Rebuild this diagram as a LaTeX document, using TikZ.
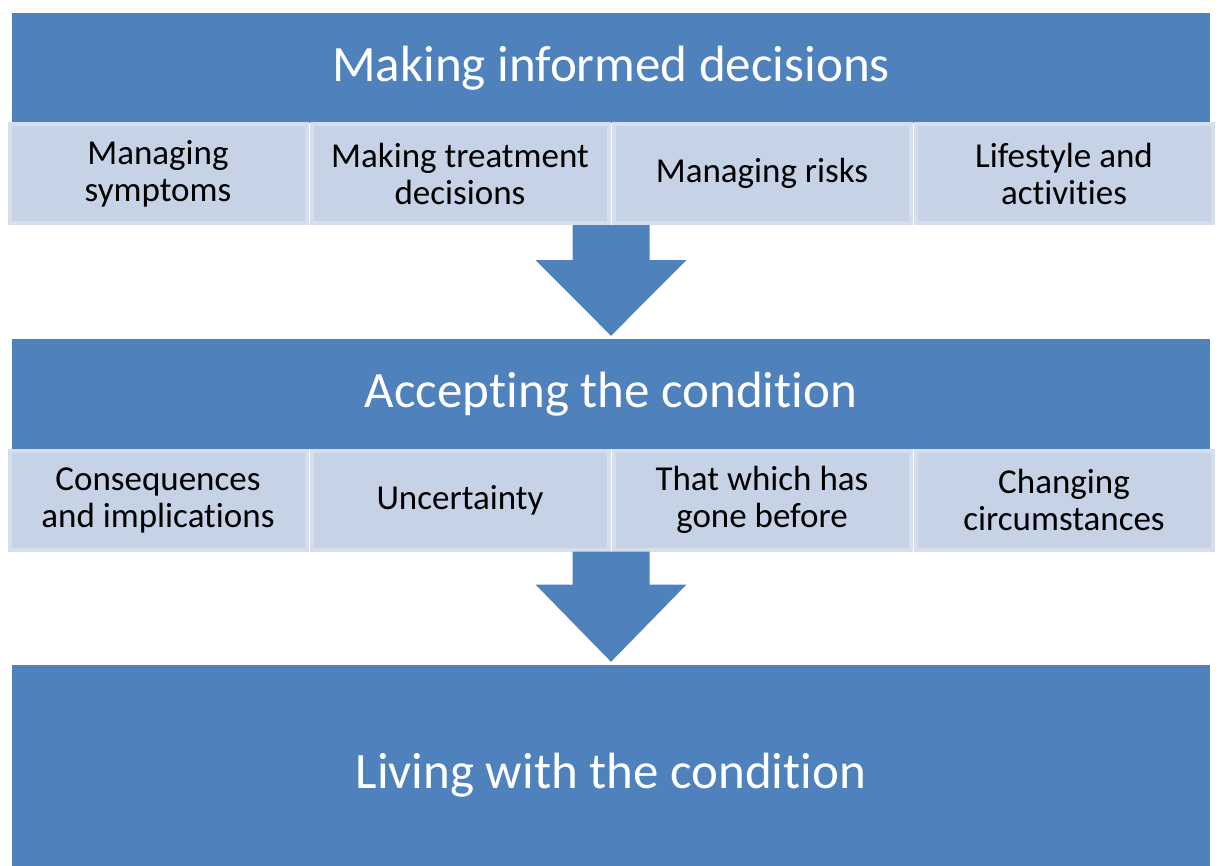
\documentclass[tikz,border=0pt]{standalone}
\usepackage{fontspec}
\setmainfont{Carlito}[Ligatures=NoCommon]
\usetikzlibrary{calc}
\definecolor{bannerblue}{RGB}{79,129,189}
\definecolor{topicfill}{RGB}{198,210,229}
\definecolor{topicedge}{RGB}{214,221,235}

\begin{document}
\begin{tikzpicture}[x=1pt,y=-1pt]
\tikzstyle{every node}+=[inner sep=0pt]
\tikzstyle{banner}=[fill=bannerblue, text=white, minimum width=1198pt, font=\fontsize{51}{54}\selectfont]
\tikzstyle{topic}=[fill=topicfill, draw=topicedge, line width=4pt, minimum width=297pt, minimum height=99pt, align=center, font=\fontsize{35}{37}\selectfont]
\tikzstyle{flow}=[fill=bannerblue]
\useasboundingbox (0,0) rectangle (1221,865);
% stage 1
\node[banner, minimum height=110pt] (decide) at (611,68) {Making informed decisions};
\node[topic] (symptoms) at (158,173.5) {Managing\\symptoms};
\node[topic] (treatment) at (460,173.5) {Making treatment\\decisions};
\node[topic] (risks) at (762,173.5) {Managing risks};
\node[topic] (lifestyle) at (1064,173.5) {Lifestyle and\\activities};
% stage 2
\node[banner, minimum height=110pt] (accept) at (611,394) {Accepting the condition};
\node[topic] (consequences) at (158,500) {Consequences\\and implications};
\node[topic] (uncertainty) at (460,500) {Uncertainty};
\node[topic] (before) at (762,500) {That which has\\gone before};
\node[topic] (circumstances) at (1064,500) {Changing\\circumstances};
% stage 3 (runs off the bottom edge)
\node[banner, minimum height=220pt] (living) at (611,775) {Living with the condition};
% block arrows
\coordinate (a1) at (treatment.south -| accept.north);
\fill[flow] ($(a1)+(-38.5,0)$) -- ($(a1)+(38.5,0)$) -- ($(a1)+(38.5,35)$) -- ($(a1)+(75.5,35)$)
  -- ($(accept.north)+(0,-3)$) -- ($(a1)+(-75.5,35)$) -- ($(a1)+(-38.5,35)$) -- cycle;
\coordinate (a2) at (uncertainty.south -| living.north);
\fill[flow] ($(a2)+(-38.5,0)$) -- ($(a2)+(38.5,0)$) -- ($(a2)+(38.5,33)$) -- ($(a2)+(75.5,33)$)
  -- ($(living.north)+(0,-3)$) -- ($(a2)+(-75.5,33)$) -- ($(a2)+(-38.5,33)$) -- cycle;
\end{tikzpicture}
\end{document}
